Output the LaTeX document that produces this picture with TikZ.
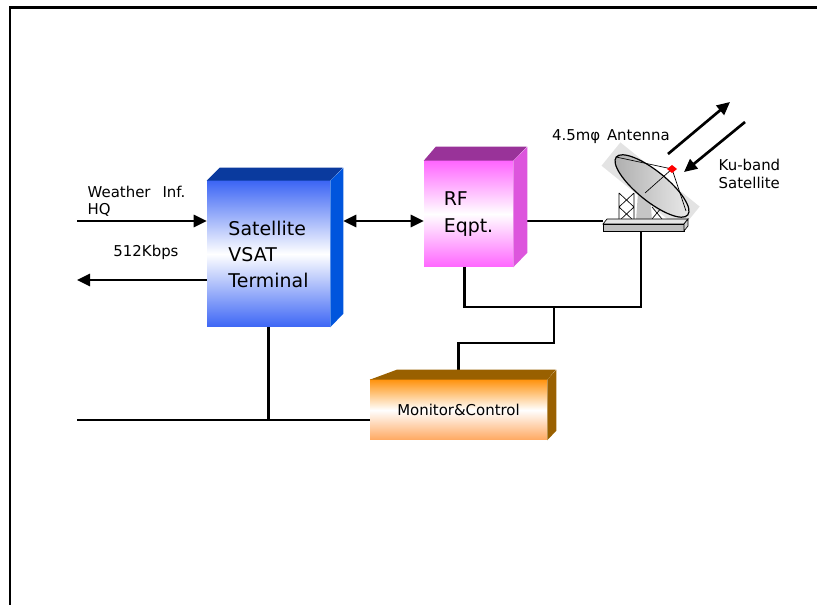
\documentclass[tikz,border=0pt]{standalone}
\usepackage{fontspec}
\setmainfont{DejaVu Sans}
\usetikzlibrary{arrows.meta,calc}

\definecolor{vsatblue}{HTML}{3D66F5}
\definecolor{vsattop}{HTML}{0A3A9E}
\definecolor{vsatside}{HTML}{0055DD}
\definecolor{rfpink}{HTML}{FF66FF}
\definecolor{rftop}{HTML}{993399}
\definecolor{rfside}{HTML}{DD55DD}
\definecolor{mcorange}{HTML}{FF9411}
\definecolor{mclight}{HTML}{FFA860}
\definecolor{mctop}{HTML}{996000}

\begin{document}
\begin{tikzpicture}[x=0.75pt,y=-0.75pt,
    link/.style={line width=2pt},
    sig/.style={link,-{Triangle[length=9.75pt,width=9pt]}},
    dual/.style={link,{Triangle[length=9.75pt,width=9pt]}-{Triangle[length=9.75pt,width=9pt]}},
    big/.style={font=\fontsize{14.2}{19.5}\selectfont},
    small/.style={font=\fontsize{11.2}{13}\selectfont},
    block/.style={shading=axis,inner sep=0pt,align=left,big},
    thin/.style={line width=0.5pt}]
\useasboundingbox (0,0) rectangle (817,605);

% frame
\draw[line width=1.75pt] (10,605) -- (10,7.5) -- (817,7.5);

\coordinate (hqin) at (77,221);
\coordinate (hqout) at (77,280);
\coordinate (bus) at (77,420);
\coordinate (split) at (554,307);
\coordinate (antfeed) at (603,221);
\coordinate (antpost) at (641,231);

% boxes (front faces)
\node[block,top color=vsatblue,bottom color=vsatblue,middle color=white,
      minimum width=92.25pt,minimum height=109.5pt] (vsat) at (268.5,254)
      {Satellite\\VSAT\\Terminal};
\node[block,top color=rfpink,bottom color=rfpink,middle color=white,
      minimum width=66.75pt,minimum height=79.5pt,
      font=\fontsize{14.2}{20.25}\selectfont] (rf) at (468.5,214)
      {RF\\Eqpt.};
\node[block,top color=mcorange,bottom color=mclight,middle color=white,
      minimum width=132.75pt,minimum height=45pt,small] (mc) at (458.5,410)
      {Monitor\&Control};

% wiring
\draw[sig] (hqin) -- (vsat.west |- hqin);
\draw[sig] (vsat.west |- hqout) -- (hqout);
\draw[dual] ($(vsat.east |- hqin)+(13,0)$) -- (rf.west |- hqin);
\draw[link] ($(rf.east |- antfeed)+(14,0)$) -- (antfeed);
\draw[link] ([xshift=-3pt]rf.south) |- (split) -| (antpost);
\draw[link] (split) -- ++(0,36) -| ([yshift=7.5pt]mc.north);
\draw[link] (vsat.south) -- (vsat.south |- bus);
\draw[link] (bus) -- (bus -| mc.west);

% side and top faces
\fill[vsattop] (vsat.north west) -- ++(13,-13) -- ++(123,0) -- (vsat.north east) -- cycle;
\fill[vsatside] (vsat.north east) -- ++(13,-13) -- ++(0,146) -- (vsat.south east) -- cycle;
\fill[rftop] (rf.north west) -- ++(12,-14) -- ++(91,0) -- (rf.north east) -- cycle;
\fill[rfside] (rf.north east) -- ++(14,-14) -- ++(0,106) -- (rf.south east) -- cycle;
\fill[mctop] (mc.north west) -- ++(27,-10) -- ++(159,0) -- (mc.north east) -- cycle;
\fill[mctop] (mc.north east) -- ++(9,-10) -- ++(0,61) -- (mc.south east) -- cycle;

% antenna
\begin{scope}[shift={(652,186)},rotate=-39]
  \fill[gray!22] (-52,-14) rectangle (50,16);
\end{scope}
\draw[thin] (619,193) -- (619,221) (634,193) -- (634,221)
  (619,193) -- (634,207) (634,193) -- (619,207)
  (619,207) -- (634,221) (634,207) -- (619,221);
\draw[thin] (652,207) -- (662,219) (662,207) -- (652,219);
\fill[gray!45] (638,192) -- (650,192) -- (652,221) -- (636,221) -- cycle;
\filldraw[thin,fill=gray!20] (607,219) -- (688,219) -- (684,224) -- (603,224) -- cycle;
\filldraw[thin,fill=gray!50] (603,224) rectangle (684,231);
\filldraw[thin,fill=gray!35] (684,224) -- (688,219) -- (688,226) -- (684,231) -- cycle;
\begin{scope}[shift={(652,186)},rotate=-39]
  \shade[left color=gray!65,right color=gray!15] (0,0) ellipse [x radius=46,y radius=15];
  \draw[line width=0.9pt] (0,0) ellipse [x radius=46,y radius=15];
\end{scope}
\draw[thin] (616,157) -- (672,169) -- (686,211) (672,169) -- (645,193);
\fill[red] (672,165) -- (677,169) -- (672,173) -- (667,169) -- cycle;

% satellite link
\coordinate (upA) at (668,154);
\coordinate (upB) at (730,102);
\coordinate (dnA) at (745,122);
\coordinate (dnB) at (684,172);
\draw[sig] (upA) -- (upB);
\draw[sig] (dnA) -- (dnB);

% labels
\node[small,anchor=west,align=left,font=\fontsize{11.2}{12.75}\selectfont] (hqlbl) at (83,201)
  {Weather\hspace{9pt}Inf.\\HQ};
\node[small] (ratelbl) at (146,252) {512Kbps};
\node[small] (antlbl) at (611,137) {4.5mφ\hspace{5pt}Antenna};
\node[small,anchor=west,align=left,font=\fontsize{11.2}{13.5}\selectfont] (kulbl) at (714,174)
  {Ku-band\\Satellite};
\end{tikzpicture}
\end{document}
